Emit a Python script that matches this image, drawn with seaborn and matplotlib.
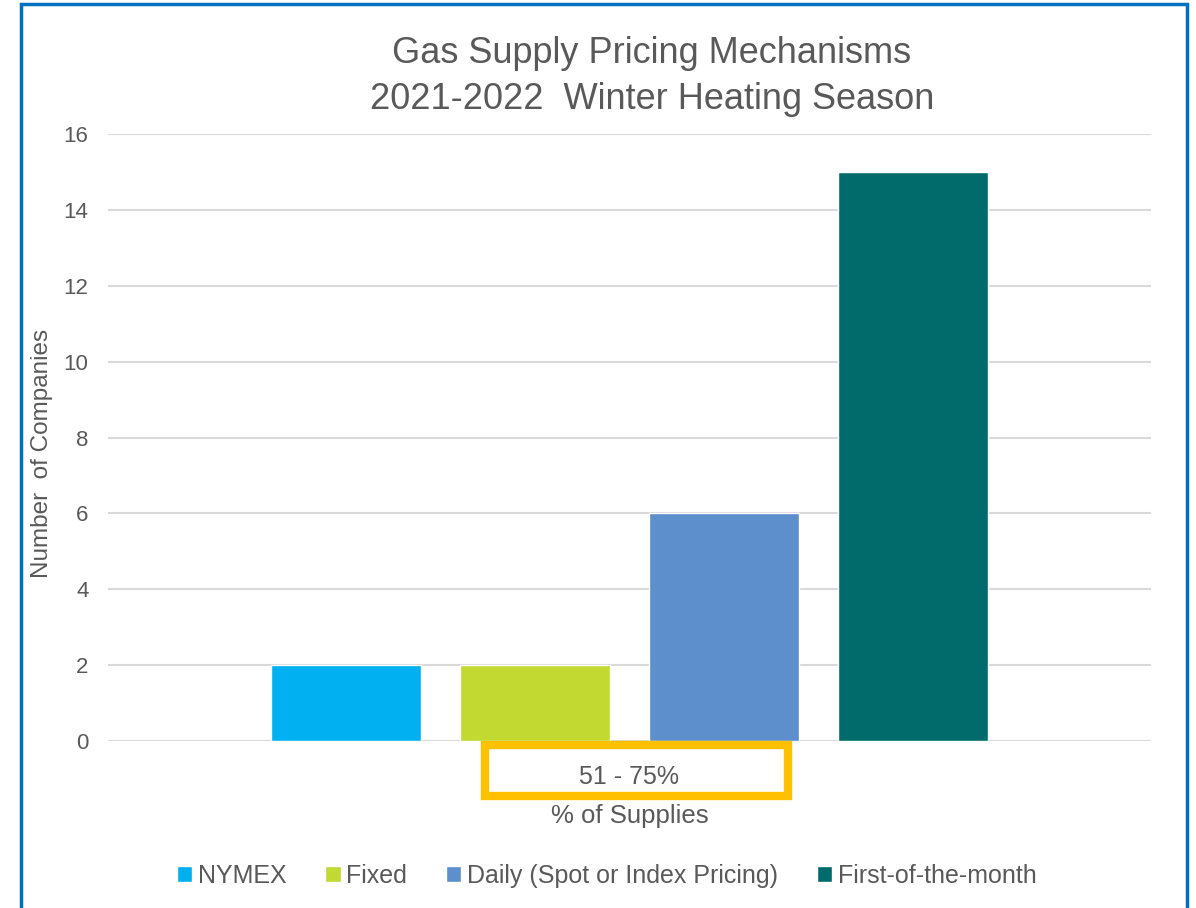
import matplotlib
matplotlib.use('Agg')
import matplotlib.pyplot as plt
import seaborn as sns
import pandas as pd
from matplotlib.patches import Rectangle

# data
category = ['51 - 75%']
mechanisms = ['NYMEX', 'Fixed', 'Daily (Spot or Index Pricing)', 'First-of-the-month']
companies = [2, 2, 6, 15]
colors = ['#00B0F0', '#C2D932', '#5C8FCC', '#016B6B']

sns.set_style('white')
plt.rcParams['font.family'] = ['Liberation Sans', 'DejaVu Sans']
grey = '#595959'

df = pd.DataFrame({'supplies': category * len(mechanisms),
                   'mechanism': mechanisms,
                   'count': companies})

fig = plt.figure(figsize=(11.96, 9.08), dpi=100)
ax = fig.add_axes([0.0903, 0.1839, 0.872, 0.6685])

sns.barplot(data=df, x='supplies', y='count', hue='mechanism',
            hue_order=mechanisms, palette=colors, width=0.725, gap=0.21,
            saturation=1, ax=ax, legend=True)

ax.set_ylim(0, 16)
ax.set_xlim(-0.5, 0.5)
ax.set_yticks(range(0, 17, 2))
ax.yaxis.grid(True, color='#D9D9D9', linewidth=1.5)
ax.set_axisbelow(True)
for s in ax.spines.values():
    s.set_visible(False)
ax.tick_params(axis='y', labelsize=16, colors=grey, length=0, pad=14)
ax.tick_params(axis='x', labelsize=18, colors=grey, length=0, pad=17)
ax.set_ylabel('Number  of Companies', fontsize=17.5, color=grey, labelpad=8, y=0.473)
ax.set_xlabel('% of Supplies', fontsize=18.5, color=grey, labelpad=11)
ax.set_title('Gas Supply Pricing Mechanisms\n2021-2022  Winter Heating Season',
             fontsize=26, color=grey, pad=18, linespacing=1.42, x=0.5216)

# orange highlight box around the category label
fig.patches.append(Rectangle((485 / 1196, 1 - 796 / 908), 303 / 1196, 51 / 908,
                             transform=fig.transFigure, fill=False,
                             edgecolor='#FFC000', linewidth=6))

# legend below
ax.legend(loc='upper center', bbox_to_anchor=(0.478, -0.165), ncol=4, frameon=False,
          fontsize=18, handlelength=0.62, handleheight=0.62, handletextpad=0.22,
          columnspacing=1.55, labelcolor=grey)

# blue frame around the whole chart
fig.patches.append(Rectangle((21 / 1196, -0.05), 1166 / 1196, 1 - 4 / 908 + 0.05,
                             transform=fig.transFigure, fill=False,
                             edgecolor='#0070C0', linewidth=2.5))

fig.savefig('out.png', dpi=100)
